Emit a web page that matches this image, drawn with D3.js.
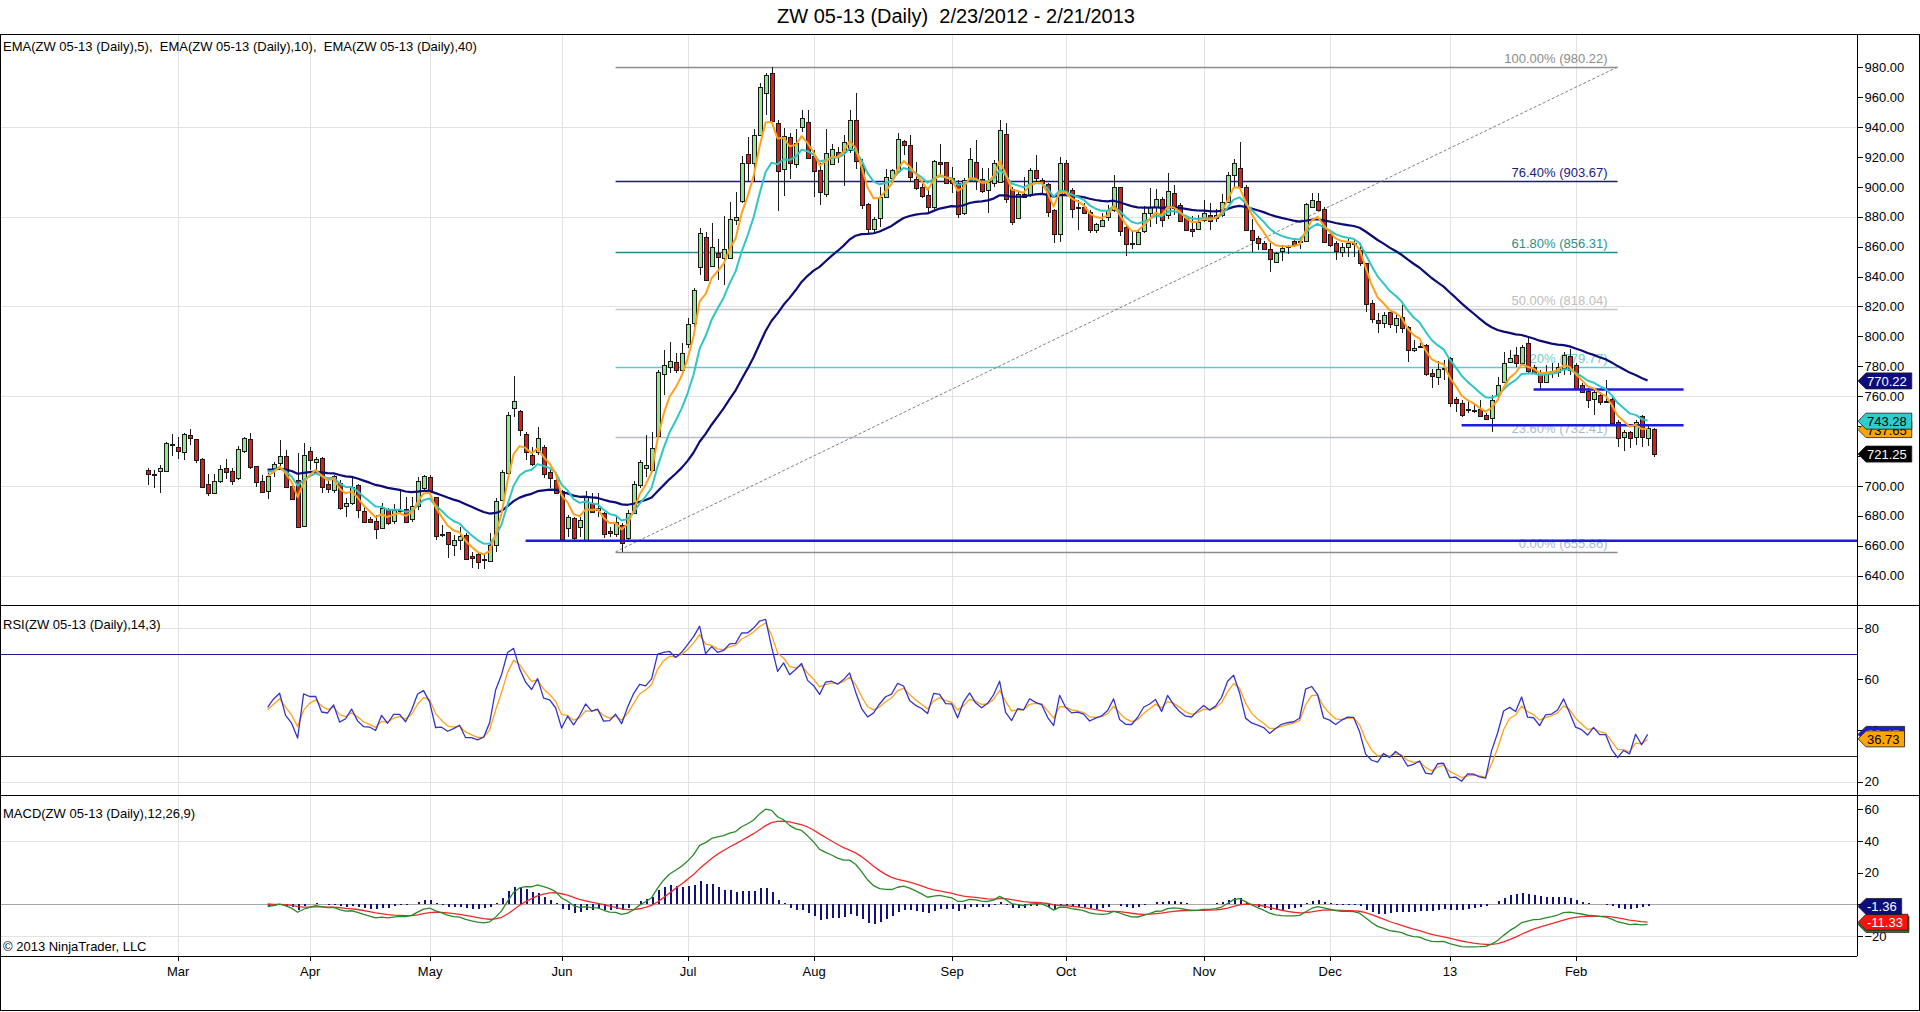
<!DOCTYPE html>
<html>
<head>
<meta charset="utf-8">
<script src="https://cdn.jsdelivr.net/npm/d3@7"></script>
<style>
  body { margin: 0; background: #fff; }
  text { font-family: "Liberation Sans", Arial, sans-serif; }
</style>
</head>
<body>
<svg></svg>
<script>
// daily bars ZW 05-13, 2/23/2012 .. 2/21/2013
var opens = [
  710.75,707.75,710,709.5,728,726.25,723,734,731.25,717.75,
  701,695,703.25,711.75,710,705,723,731.25,713,703.5,
  697,711,715.5,720,700,704,673.25,723.5,715.5,718.5,
  701,697.25,701.75,686.5,688.5,700.5,683.25,677.75,676.5,671.75,
  684,676.75,683.5,684.5,677.75,686,699,705.75,692.5,667.5,
  669.25,660.5,663.75,667.25,652.75,654.5,651,649.75,660.5,690.5,
  708.5,752,750,734.75,720.75,722.25,726.25,709.5,704,696.25,
  672.25,678.25,672.75,664.25,688.75,684,681.75,669.5,667.25,674,
  665,682,700.5,711.75,710.75,733.5,774.75,779.75,783,777.5,
  794.5,809.25,846.75,866.75,847,856,852.25,852.25,877.5,890,
  922,916.25,934.75,963,976.5,942.5,911.75,933.25,915.75,940,
  943.75,920.75,911,895.25,915.5,923.5,923.5,924.75,944.75,914,
  888.25,871.5,879.5,893,905.75,910.25,930.75,928,905,899.75,
  894.5,886.25,917,916.5,905.75,902.75,882.25,904.5,917,905,
  898,902.5,903.5,935.5,898.5,879,895.25,894.5,911.25,904.5,
  901.75,884.5,868.5,915.75,898,886.75,886.75,883.5,871.25,873.75,
  879.5,884.5,899.75,873.5,862.5,861.75,870,882,886.25,891.75,
  881.25,896,888,879.5,871.75,872.25,877.75,881.25,879,881.25,
  890,908,912.5,900,871.5,865.5,862.75,858.25,849.25,856.75,
  860,863.5,863.25,864,886.75,890.75,885.5,868.75,862.25,856.75,
  859.75,862.25,857.75,849,822.5,811,808.75,816,807.5,813.25,
  806.5,790.5,793.5,794.25,775.25,773,778.5,785.25,758,755.5,
  750.25,750.75,751.25,747.5,745.25,761.5,769.75,782.5,787.5,782,
  795.5,779.75,775.25,769.75,775.75,776.5,778.5,787,781,767.5,
  763.75,758,760.75,756.5,758,743,733,736.25,733,746.75,
  731.75,737.75
];
var highs = [
  711.75,710.75,714,729.25,734.5,732.5,735.25,738,731.25,718.5,
  708,708,714,717.75,711.75,727,733,735.25,713,707.25,
  708.5,716,730.75,724,700.5,721.75,728.5,726.25,719,719,
  705,707.25,704,691.75,705.75,701.25,686,679.5,680.5,688.5,
  685,688,697.25,692.75,692.75,706.25,707.25,707.25,692.75,674,
  669.25,667,672.75,668.75,656,656,653.75,668.25,691.75,710.75,
  749.75,773.5,750.75,736.25,726.25,739.5,727.5,711.75,705,697.25,
  680.5,679.5,679.5,696.25,695,695,682.75,672.75,680.5,675,
  684,703,717,734,736.25,777.5,791,796.5,789,795.5,
  812,832.25,872.25,870,876,865,880.5,890,896.75,920.75,
  933.5,938.5,969.25,976,980.25,944.75,939.25,936.25,938.5,951.5,
  951.5,924.75,915.75,938.5,928.75,927,934.75,951.5,963,918.5,
  889,880,900,911.75,911.75,936.25,931.5,934.75,917,902.75,
  900,918,929,917,913.5,904.5,905.75,925.75,931.5,912.5,
  912.5,918,944.75,942.5,900,896.75,906.75,912.5,921.25,905.75,
  902.5,885.5,920.25,918,899,891.25,889,884.5,876,882.25,
  888,908,900,874.5,871.25,871.25,887.25,899,898.5,893.5,
  909,901.25,889,881.25,880.5,881.25,891.25,889.5,885.5,895.25,
  910.25,918.5,930.25,901.25,878.25,867.25,863.5,862.25,856.75,861,
  861,865.5,866.75,889.5,896,896,886.25,870,863.5,862.75,
  865,864.5,862.25,849.25,824.25,815.5,816,816.5,815.5,821,
  807,797.5,795.5,795,778.5,783.75,784.25,786.5,759.75,757.5,
  757.5,754,757.5,748.5,760.75,773,789.75,791,793,794.25,
  800.25,781,777.5,781,782,782,789.75,791.25,782,768.5,
  765.25,764.25,763,770.75,759.25,744,737.5,737,744,747.5,
  740,738.5
];
var lows = [
  700.5,698.5,695.5,709,720,718,717.5,727.5,715,698.5,
  693.5,694.5,701.75,704.75,700.5,704,721.75,711.5,699.5,695,
  691,706.25,713,699,690.5,671.75,672.75,710.75,710.75,695.5,
  695.5,695.5,684,679.5,687.25,678.25,675,675,664.25,671,
  674,674.5,681.75,675.5,676,684,697,695.5,664,666,
  651.5,652.75,657.25,650.5,645,644.25,644.25,649.25,655.5,690,
  708,746,733.5,717.25,713.25,720.75,705,698.5,695,663.5,
  666,663.5,666,664,681.75,679.5,665,666,666,655.75,
  663.5,681.75,698.5,706.25,709.5,733,760.75,775.75,775.75,776.5,
  792,806.5,841,837.75,846.75,837.75,834.5,851.5,874.5,889,
  903.5,903.5,934,948,943.75,884,894,905,912.5,937,
  918.5,893.5,888,893.5,914.75,915.75,900.5,922.5,911.75,885.5,
  869.5,870,873.5,892.25,903,909,921.25,903.5,898,892.25,
  883.5,885.5,908,902.5,895.75,879,881.25,903.5,898,895.75,
  882.25,900,902.5,889,874.5,879,892.25,893.5,903.5,895.75,
  880,862.75,863.25,894,879,871.5,882,869.5,869,873.5,
  877.5,883.5,867.25,853.75,858.25,861,869,873.5,875.25,873.5,
  878.25,881.25,876.75,871.25,866.75,871.5,876.75,871.5,876.75,880,
  889,900,899,871.25,856.75,857.75,858.25,843.25,849,850.75,
  855,860,858.25,863.5,886.25,884.5,862.25,860,851,853.25,
  853.25,853.25,847,816,808.75,802,805.5,805.5,802,802,
  783,789.75,792,773.5,765.25,767.5,770.75,753,749.75,746.25,
  748.5,748.5,746,744,736.25,757.5,768.5,782,779.75,781,
  775.25,775.25,764.25,768.5,772,773,774.25,774.25,764.25,762,
  752,747.5,754,755.25,742,726.25,723,725,727.5,726.25,
  726.75,719
];
var closes = [
  708,707.25,711.75,728.5,727.5,723.5,734.75,732,717.5,699,
  695,703.25,711,709,703.5,724.5,732,712.25,702.25,696.25,
  706.75,714.5,720,699.5,691,672.25,720.75,717.5,717.75,699,
  697.75,706.75,685,688.5,699,684,676,675.5,671,685,
  675.5,684,684,676,686.5,703,706.75,696.25,666.5,666.75,
  661.5,663.75,666.5,651.5,651.5,649,650.75,660.5,690,709.5,
  747.5,756.5,737.5,723,714.75,731.75,708,705.75,695.5,664.25,
  679.5,665,677.25,693.5,682.75,685.5,667.5,668,675.5,662,
  682,701.25,715.75,714,725.25,776.5,781,783.5,777.5,789,
  808,831,869.5,838.25,860,853,858.25,878.25,879.75,915.75,
  916.25,934.75,967,975,944.25,910.25,934,915.75,929.5,946,
  919.75,911,896.25,923,925.25,920.75,930.25,944.75,917,888,
  871.5,878.25,893.5,906.5,911.25,931.75,928,906.5,899,894,
  886.25,917.25,915.75,902.75,902.5,882,904.5,918.5,904.5,897.25,
  903.5,915.75,938,891.75,876.75,895.25,893.5,911.25,905.75,902.5,
  882.75,868.5,915.75,895.25,885,886.25,882.75,871.25,875,877.75,
  884.5,899.75,870,862.25,862,870,882.25,886.25,891.75,877.5,
  897.5,886.25,877.5,871.5,870.5,876.75,882.25,877.5,881.25,890,
  908,915.75,900,871.5,865,862.25,859,851.5,855.5,859,
  860.25,861,863.5,888.5,891.25,885,863.5,861.25,856.75,860,
  862.25,862,849,821.75,812,808.75,814.25,808.25,812,806,
  791,792,793.75,774.75,773,778.5,778.75,755.25,755.5,747.5,
  751.25,750.75,746.25,744.5,757.5,767.5,782.5,785.25,782,793,
  776.5,776,769,776.5,777,779.75,787.5,777.5,765.25,763,
  758,762.5,756.25,756.25,742.25,732.5,736.25,732.5,743,732.5,
  738.5,721.25
];

// exchange holidays inside the range (no bars on these days)
var holidays = ["2012-04-06","2012-05-28","2012-07-04","2012-09-03","2012-11-22",
                "2012-12-25","2013-01-01","2013-01-21","2013-02-18"];

// fibonacci retracement drawn on the chart
var fibPcts   = [0, 23.6, 38.2, 50, 61.8, 76.4, 100];
var fibPrices = [655.86, 732.41, 779.77, 818.04, 856.31, 903.67, 980.22];
var fibColors = ["#8c8c8c", "#b4bccc", "#5ccaca", "#c8c8c8", "#1e8c8c", "#1a1a80", "#8c8c8c"];
var fibText   = ["#a8b8d8", "#a8b8d8", "#6fcccc", "#bdbdbd", "#2a8f8f", "#1a1a80", "#8c8c8c"];
var fibFrom = 78, fibTo = 245;

// drawn horizontal lines: [price, from bar, to bar (null = to the edge)]
var userLines = [[663.25, 63, null], [764.5, 231, 256], [740.5, 219, 256]];

// value tags on the right axis (as printed on the chart)
var lastPrice = 721.25;
var emaLast = [737.65, 743.28, 770.22];
var rsiAvgLast = 36.73;
var macdDiffLast = -1.36, macdAvgLast = -11.33;

var priceTicks = d3.range(640, 981, 20);
var rsiTicks = [20, 40, 60, 80];
var macdTicks = [-20, 0, 20, 40, 60];

var svg = d3.select("svg").attr("width", 1920).attr("height", 1012);
var n = closes.length;
var plotRight = 1857;

// trading day list
var hol = new Set(holidays);
var dates = [];
var fmtDay = d3.timeFormat("%Y-%m-%d");
d3.timeDay.range(new Date(2012, 1, 23), new Date(2013, 1, 22)).forEach(function(d){
    var wd = d.getDay();
    if (wd != 0 && wd != 6 && !hol.has(fmtDay(d))) dates.push(d);
});
var monthStarts = [];
for (var i = 1; i < dates.length; i++) {
    if (dates[i].getMonth() != dates[i-1].getMonth()) monthStarts.push(i);
}

var x = d3.scaleLinear().domain([0, n - 1]).range([147.6, 147.6 + 6 * (n - 1)]);
var yP = d3.scaleLinear().domain([620.3, 1002.3]).range([605, 34]);
var yR = d3.scaleLinear().domain([14.82, 88.98]).range([795, 605]);
var yM = d3.scaleLinear().domain([-32.6, 68.96]).range([956, 795]);

// ---- indicators (computed on closed bars, like the platform does)
var calc = closes.slice(0, n - 1);
function ema(src, p) {
    var k = 2 / (p + 1), out = [];
    src.forEach(function(v, i){ out.push(i == 0 ? v : k * v + (1 - k) * out[i-1]); });
    return out;
}
var ema5 = ema(calc, 5), ema10 = ema(calc, 10), ema40 = ema(calc, 40);

var rsiVal = [], rsiAvg = [];
(function(){
    var period = 14, k = 2 / (1 + 3), up = [0], dn = [0], aU = 0, aD = 0;
    rsiVal.push(null); rsiAvg.push(null);
    for (var i = 1; i < calc.length; i++) {
        up.push(Math.max(calc[i] - calc[i-1], 0));
        dn.push(Math.max(calc[i-1] - calc[i], 0));
        if (i + 1 < period) { rsiVal.push(null); rsiAvg.push(i + 1 == period - 1 ? 50 : null); continue; }
        if (i + 1 == period) { aU = d3.mean(up); aD = d3.mean(dn); }
        else { aU = (aU * (period - 1) + up[i]) / period; aD = (aD * (period - 1) + dn[i]) / period; }
        var r = aD == 0 ? 100 : 100 - 100 / (1 + aU / aD);
        rsiVal.push(r);
        rsiAvg.push(k * r + (1 - k) * rsiAvg[i-1]);
    }
})();

var fast = ema(calc, 12), slow = ema(calc, 26);
var macd = calc.map(function(v, i){ return fast[i] - slow[i]; });
var macdAvg = ema(macd, 9);
var macdDiff = macd.map(function(v, i){ return v - macdAvg[i]; });

var startBar = 20;
var idx = d3.range(startBar, calc.length);

// ---- clip paths
var defs = svg.append("defs");
[["cp", 34, 605], ["cr", 605, 795], ["cm", 795, 956]].forEach(function(c){
    defs.append("clipPath").attr("id", c[0]).append("rect")
        .attr("x", 0).attr("y", c[1]).attr("width", plotRight).attr("height", c[2] - c[1]);
});

// ---- title
svg.append("text").attr("x", 956).attr("y", 23).attr("text-anchor", "middle")
    .style("font-size", "20px").style("white-space", "pre").attr("fill", "#000")
    .text("ZW 05-13 (Daily)  2/23/2012 - 2/21/2013");

// ---- grids
var grid = svg.append("g").attr("shape-rendering", "crispEdges");
monthStarts.forEach(function(i){
    grid.append("line").attr("x1", Math.round(x(i)) + 0.5).attr("x2", Math.round(x(i)) + 0.5)
        .attr("y1", 34).attr("y2", 956).attr("stroke", "#e2e2e2");
});
[[yP, [640, 700, 760, 820, 880, 940]], [yR, [20, 80]], [yM, [-20, 40]]].forEach(function(g){
    g[1].forEach(function(v){
        grid.append("line").attr("x1", 0).attr("x2", plotRight)
            .attr("y1", Math.round(g[0](v)) + 0.5).attr("y2", Math.round(g[0](v)) + 0.5)
            .attr("stroke", "#e2e2e2");
    });
});

// ---- price panel
var pg = svg.append("g").attr("clip-path", "url(#cp)");

fibPcts.forEach(function(p, k){
    var yy = Math.round(yP(fibPrices[k])) + 0.5;
    pg.append("line").attr("x1", x(fibFrom)).attr("x2", x(fibTo)).attr("y1", yy).attr("y2", yy)
        .attr("stroke", fibColors[k]).attr("stroke-width", 1.3);
    pg.append("text").attr("x", x(fibTo) - 10).attr("y", yy - 5).attr("text-anchor", "end")
        .style("font-size", "13px").attr("fill", fibText[k])
        .text(p.toFixed(2) + "% (" + fibPrices[k].toFixed(2) + ")");
});
pg.append("line").attr("x1", x(fibFrom)).attr("y1", yP(fibPrices[0]))
    .attr("x2", x(fibTo)).attr("y2", yP(fibPrices[fibPrices.length - 1]))
    .attr("stroke", "#808080").attr("stroke-dasharray", "3,2");

// candles
var bars = pg.append("g").attr("shape-rendering", "crispEdges");
d3.range(n).forEach(function(i){
    var cx = Math.round(x(i));
    var up = closes[i] >= opens[i];
    bars.append("line").attr("x1", cx + 0.5).attr("x2", cx + 0.5)
        .attr("y1", yP(highs[i])).attr("y2", yP(lows[i])).attr("stroke", "#1a1a1a");
    var top = yP(Math.max(opens[i], closes[i])), bot = yP(Math.min(opens[i], closes[i]));
    bars.append("rect").attr("x", cx - 1.5).attr("y", Math.round(top) + 0.5)
        .attr("width", 4).attr("height", Math.max(1, Math.round(bot - top)))
        .attr("fill", up ? "#94e494" : "#dd1c1c").attr("stroke", "#1a1a1a");
});

// drawn lines
userLines.forEach(function(l){
    pg.append("line").attr("x1", x(l[1])).attr("x2", l[2] == null ? plotRight : x(l[2]))
        .attr("y1", yP(l[0])).attr("y2", yP(l[0]))
        .attr("stroke", "#1c1cdc").attr("stroke-width", 2.5);
});

function drawLine(g, ys, arr, color, w) {
    g.append("path").datum(idx.filter(function(i){ return arr[i] != null; }))
        .attr("fill", "none").attr("stroke", color).attr("stroke-width", w)
        .attr("stroke-linejoin", "round")
        .attr("d", d3.line().x(function(i){ return x(i); }).y(function(i){ return ys(arr[i]); }));
}
drawLine(pg, yP, ema40, "#0c0c78", 2.2);
drawLine(pg, yP, ema10, "#2ec6c6", 2);
drawLine(pg, yP, ema5, "#ffa21a", 2);

// ---- RSI panel
var rg = svg.append("g").attr("clip-path", "url(#cr)");
rg.append("line").attr("x1", 0).attr("x2", plotRight).attr("y1", Math.round(yR(70)) + 0.5)
    .attr("y2", Math.round(yR(70)) + 0.5).attr("stroke", "#1e1e9a");
rg.append("line").attr("x1", 0).attr("x2", plotRight).attr("y1", Math.round(yR(30)) + 0.5)
    .attr("y2", Math.round(yR(30)) + 0.5).attr("stroke", "#222");
drawLine(rg, yR, rsiAvg, "#ffa21a", 1.3);
drawLine(rg, yR, rsiVal, "#3434c8", 1.3);

// ---- MACD panel
var mg = svg.append("g").attr("clip-path", "url(#cm)");
mg.append("line").attr("x1", 0).attr("x2", plotRight).attr("y1", Math.round(yM(0)) + 0.5)
    .attr("y2", Math.round(yM(0)) + 0.5).attr("stroke", "#a8a8a8").attr("shape-rendering", "crispEdges");
mg.append("g").attr("shape-rendering", "crispEdges").selectAll("rect").data(idx).join("rect")
    .attr("x", function(i){ return Math.round(x(i)); }).attr("width", 2)
    .attr("y", function(i){ return Math.min(yM(0), yM(macdDiff[i])); })
    .attr("height", function(i){ return Math.abs(yM(macdDiff[i]) - yM(0)); })
    .attr("fill", "#101080");
drawLine(mg, yM, macdAvg, "#ee2a2a", 1.3);
drawLine(mg, yM, macd, "#2a8a2a", 1.3);

// ---- frames and panel borders
var fr = svg.append("g").attr("shape-rendering", "crispEdges").attr("fill", "none").attr("stroke", "#000");
fr.append("rect").attr("x", 0.5).attr("y", 34.5).attr("width", 1918.5).attr("height", 976);
fr.append("line").attr("x1", 0).attr("x2", 1920).attr("y1", 605.5).attr("y2", 605.5);
fr.append("line").attr("x1", 0).attr("x2", 1920).attr("y1", 795.5).attr("y2", 795.5);
fr.append("line").attr("x1", 0).attr("x2", plotRight).attr("y1", 956.5).attr("y2", 956.5);
fr.append("line").attr("x1", plotRight + 0.5).attr("x2", plotRight + 0.5).attr("y1", 34).attr("y2", 956);

// ---- axes
function styleAxis(g) {
    g.select(".domain").remove();
    g.selectAll("line").attr("stroke", "#000").attr("shape-rendering", "crispEdges");
    g.selectAll("text").style("font-size", "13px").attr("fill", "#000").attr("font-family", null);
}
svg.append("g").attr("transform", "translate(" + (plotRight + 0.5) + ",0)")
    .call(d3.axisRight(yP).tickValues(priceTicks).tickFormat(d3.format(".2f")).tickSize(5).tickPadding(2))
    .call(styleAxis);
svg.append("g").attr("transform", "translate(" + (plotRight + 0.5) + ",0)")
    .call(d3.axisRight(yR).tickValues(rsiTicks).tickFormat(d3.format("d")).tickSize(5).tickPadding(2))
    .call(styleAxis);
svg.append("g").attr("transform", "translate(" + (plotRight + 0.5) + ",0)")
    .call(d3.axisRight(yM).tickValues(macdTicks).tickFormat(d3.format("d")).tickSize(5).tickPadding(2))
    .call(styleAxis);
var fmtMon = d3.timeFormat("%b"), fmtYr = d3.timeFormat("%y");
svg.append("g").attr("transform", "translate(0,956.5)")
    .call(d3.axisBottom(x).tickValues(monthStarts).tickSize(4).tickPadding(6)
        .tickFormat(function(i){ return dates[i].getMonth() == 0 ? fmtYr(dates[i]) : fmtMon(dates[i]); }))
    .call(styleAxis);

// ---- value tags
function tag(yy, txt, bg, fg) {
    var g = svg.append("g");
    var p = g.append("path").attr("fill", bg).attr("stroke", "#1a1a1a").attr("stroke-width", 0.8);
    var t = g.append("text").attr("x", 1867).attr("y", yy + 5).style("font-size", "13px")
        .attr("fill", fg).text(txt);
    var w = t.node().getComputedTextLength() + 6;
    p.attr("d", "M" + (plotRight + 1) + "," + yy + "L1866," + (yy - 8) + "L" + (1866 + w) + "," + (yy - 8) +
        "L" + (1866 + w) + "," + (yy + 8) + "L1866," + (yy + 8) + "Z");
}
tag(yP(emaLast[0]), emaLast[0].toFixed(2), "#ffa500", "#000");
tag(yP(emaLast[1]), emaLast[1].toFixed(2), "#2ecccc", "#000");
tag(yP(emaLast[2]), emaLast[2].toFixed(2), "#0c0c80", "#fff");
tag(yP(lastPrice), lastPrice.toFixed(2), "#000", "#fff");
var lastRsi = rsiVal[calc.length - 1];
tag(yR(lastRsi), lastRsi.toFixed(2), "#1a1adc", "#fff");
tag(yR(rsiAvgLast), rsiAvgLast.toFixed(2), "#ffa500", "#000");
var lastMacd = macd[calc.length - 1];
tag(yM(lastMacd), lastMacd.toFixed(2), "#2a8a2a", "#fff");
tag(yM(macdAvgLast), macdAvgLast.toFixed(2), "#ff1010", "#fff");
tag(yM(macdDiffLast), macdDiffLast.toFixed(2), "#0c0c80", "#fff");

// ---- panel captions
var cap = [["EMA(ZW 05-13 (Daily),5),  EMA(ZW 05-13 (Daily),10),  EMA(ZW 05-13 (Daily),40)", 51],
           ["RSI(ZW 05-13 (Daily),14,3)", 629],
           ["MACD(ZW 05-13 (Daily),12,26,9)", 818],
           ["\u00a9 2013 NinjaTrader, LLC", 951]];
cap.forEach(function(c){
    svg.append("text").attr("x", 3).attr("y", c[1]).style("font-size", "13px")
        .style("white-space", "pre").attr("fill", "#000").text(c[0]);
});
</script>
</body>
</html>
